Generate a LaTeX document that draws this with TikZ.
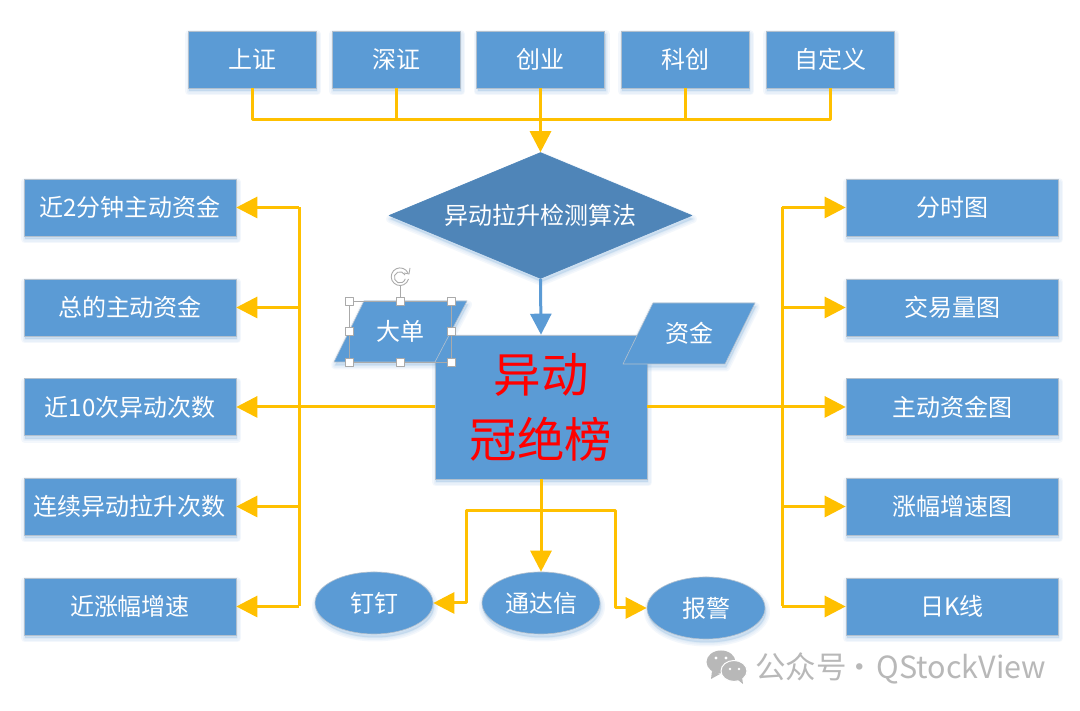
\documentclass[tikz,border=0pt]{standalone}
\usepackage{fontspec}
\setmainfont{Noto Sans CJK SC}
\usetikzlibrary{arrows.meta,shapes.geometric,shadows}
\definecolor{boxfill}{RGB}{91,155,213}
\definecolor{diamondfill}{RGB}{79,133,184}
\definecolor{boxedge}{RGB}{178,192,206}
\definecolor{flow}{RGB}{255,192,0}
\definecolor{handlegray}{RGB}{170,170,170}
\definecolor{markgray}{RGB}{184,184,184}
\tikzset{
  softlayer/.style={general shadow={shadow xshift=1pt,shadow yshift=-3.5pt,fill=boxfill,draw=boxfill,opacity=.07,line width=#1}},
  softshade/.style={softlayer=8pt,softlayer=5pt,softlayer=2pt},
  flatbox/.style={draw=boxedge,line width=.6pt,fill=boxfill,text=white,font=\fontsize{24}{26}\selectfont,inner sep=0pt,softshade},
  rowbox/.style={flatbox,rectangle,minimum width=212pt,minimum height=57pt},
  topbox/.style={flatbox,rectangle,minimum width=128pt,minimum height=57pt},
  roundbox/.style={flatbox,ellipse,minimum width=118pt,minimum height=62pt},
  slanttext/.style={text=white,font=\fontsize{24}{26}\selectfont,inner sep=0pt},
  link/.style={draw=flow,line width=3pt},
  linktip/.style={link,-{Triangle[length=21pt,width=21pt]}},
  grip/.style={rectangle,draw=handlegray,line width=.9pt,fill=white,minimum size=8pt,inner sep=0pt},
}
\begin{document}
\begin{tikzpicture}[x=1pt,y=1pt,line join=round]
\useasboundingbox[fill=white] (0,0) rectangle (1080,711);
\coordinate (topjoin) at (540.5,591);
\coordinate (leftbus) at (299,304);
\coordinate (rightbus) at (782,304);
\coordinate (lowjoin) at (541,200);
\node[topbox] (shbox) at (252,651.5) {上证};
\node[topbox] (szbox) at (396,651.5) {深证};
\node[topbox] (cybox) at (540.5,651.5) {创业};
\node[topbox] (kcbox) at (685,651.5) {科创};
\node[topbox] (zdybox) at (830,651.5) {自定义};
\node[flatbox,diamond,draw=diamondfill,fill=diamondfill,minimum width=303pt,minimum height=126pt,aspect=2.4] (algo) at (540.5,495.5) {异动拉升检测算法};
\node[rowbox] (near2) at (130,503.5) {近2分钟主动资金};
\node[rowbox] (total) at (130,403.5) {总的主动资金};
\node[rowbox] (near10) at (130,304) {近10次异动次数};
\node[rowbox] (pull) at (130,204.5) {连续异动拉升次数};
\node[rowbox] (speedl) at (130,104.5) {近涨幅增速};
\node[rowbox] (timeg) at (952,503.5) {分时图};
\node[rowbox] (volg) at (952,403.5) {交易量图};
\node[rowbox] (fundg) at (952,304) {主动资金图};
\node[rowbox] (speedg) at (952,204.5) {涨幅增速图};
\node[rowbox] (dayg) at (952,104.5) {日K线};
\node[flatbox,rectangle,minimum width=212pt,minimum height=144pt,text=red,align=center,font=\fontsize{47.5}{65}\selectfont] (rank) at (541,304) {异动\\冠绝榜};
\path[flatbox] (364,410) -- (467,410) -- (435,349) -- (334,349) -- cycle;
\path[flatbox] (653,408) -- (755,408) -- (725,347) -- (623,347) -- cycle;
\node[slanttext] (bigbox) at (400,380) {大单};
\node[slanttext] (fundbox) at (689,377.5) {资金};
\node[roundbox] (ding) at (374,108) {钉钉};
\node[roundbox] (tdx) at (541,108) {通达信};
\node[roundbox] (alarm) at (706,103) {报警};
\draw[link] (shbox.south) |- (topjoin) -| (zdybox.south);
\draw[link] (szbox.south) -- (szbox.south |- topjoin);
\draw[link] (kcbox.south) -- (kcbox.south |- topjoin);
\draw[linktip] (cybox.south) -- (algo.north);
\draw[draw=boxfill,line width=3pt,-{Triangle[length=21pt,width=21pt]}] (algo.south) -- (rank.north);
\draw[link] (leftbus |- near2.east) -- (leftbus |- speedl.east);
\draw[link] (rightbus |- timeg.west) -- (rightbus |- dayg.west);
\draw[linktip] (leftbus |- near2.east) -- (near2.east);
\draw[linktip] (leftbus |- total.east) -- (total.east);
\draw[linktip] (rank.west) -- (near10.east);
\draw[linktip] (leftbus |- pull.east) -- (pull.east);
\draw[linktip] (leftbus |- speedl.east) -- (speedl.east);
\draw[linktip] (rightbus |- timeg.west) -- (timeg.west);
\draw[linktip] (rightbus |- volg.west) -- (volg.west);
\draw[linktip] (rank.east) -- (fundg.west);
\draw[linktip] (rightbus |- speedg.west) -- (speedg.west);
\draw[linktip] (rightbus |- dayg.west) -- (dayg.west);
\draw[linktip] (rank.south) -- (tdx.north);
\draw[linktip] (lowjoin) -| (466,108) -- (ding.east);
\draw[linktip] (lowjoin) -| (615,103) -- (alarm.west);
\draw[handlegray,line width=.9pt] (349,349) rectangle (451,410);
\node[grip] (gripa) at (349,410) {};
\node[grip] (gripb) at (400,410) {};
\node[grip] (gripc) at (451,410) {};
\node[grip] (gripd) at (349,380) {};
\node[grip] (gripe) at (451,380) {};
\node[grip] (gripf) at (349,349) {};
\node[grip] (gripg) at (400,349) {};
\node[grip] (griph) at (451,349) {};
\coordinate (spin) at (400,425);
\draw[handlegray,line width=.9pt] (gripb.north) -- (spin);
\draw[handlegray,line width=.9pt] (408,438) arc[start angle=25,end angle=345,radius=8.8pt];
\draw[handlegray,line width=.9pt] (405,436) arc[start angle=25,end angle=345,radius=5.6pt];
\draw[handlegray,line width=.9pt] (404,438) -- (409,437) -- (410,443);
\fill[markgray] (721,49) ellipse[x radius=14.5pt,y radius=11.5pt];
\fill[markgray] (712,40) -- (711,32) -- (720,37) -- cycle;
\filldraw[fill=markgray,draw=white,line width=1pt] (734,40) ellipse[x radius=13pt,y radius=10.5pt];
\fill[markgray] (738,31) -- (743,27) -- (742,34) -- cycle;
\fill[white] (716,53) circle[radius=1.6pt];
\fill[white] (726,53) circle[radius=1.6pt];
\fill[white] (730,42) circle[radius=1.3pt];
\fill[white] (739,42) circle[radius=1.3pt];
\node[anchor=west,text=markgray,inner sep=0pt,font=\fontsize{30.5}{32}\selectfont] (markt) at (755,43) {公众号\kern-9.5pt\ ·\ \kern-4.5pt QStockView};
\end{tikzpicture}
\end{document}
